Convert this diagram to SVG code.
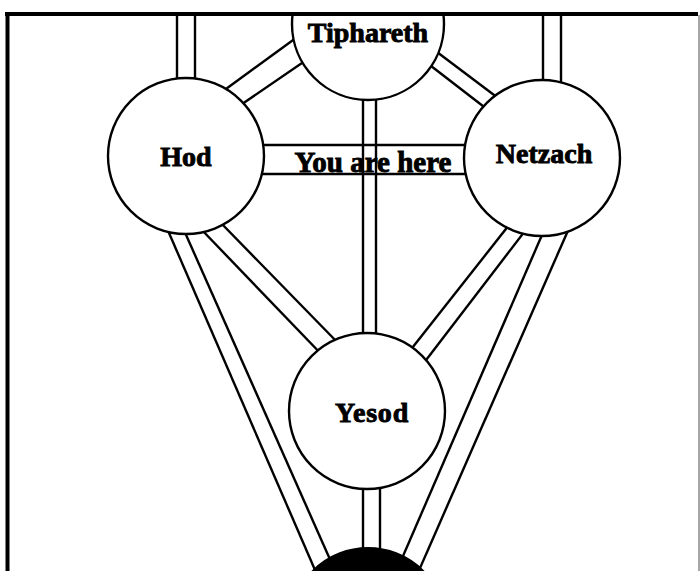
<svg xmlns="http://www.w3.org/2000/svg" width="700" height="571" viewBox="0 0 700 571">
  <style>
    .rail { stroke: #000; stroke-width: 2.4; fill: none; stroke-linecap: butt; }
    .sphere { fill: #fff; stroke: #000; stroke-width: 2.4; }
    .label { font-family: "Liberation Serif", "Times New Roman", serif; font-weight: bold; font-size: 28px; fill: #000; stroke: #000; stroke-width: 0.9; text-anchor: middle; }
  </style>
  <defs>
    <clipPath id="inside">
      <rect x="8" y="14" width="692" height="557"/>
    </clipPath>
  </defs>
  <rect x="0" y="0" width="700" height="571" fill="#fff"/>

  <g clip-path="url(#inside)">
    <!-- label of the Hod - Netzach path; the rails run over it -->
    <g id="marker-label">
      <text class="label" x="373" y="172" style="font-size:29px">You are here</text>
    </g>

    <!-- paths between the spheres, each a pair of rails -->
    <g id="connectors">
      <!-- Hod upward -->
      <line class="rail" x1="177" y1="10" x2="177" y2="100"/>
      <line class="rail" x1="195" y1="10" x2="195" y2="100"/>
      <!-- Netzach upward -->
      <line class="rail" x1="543" y1="10" x2="543" y2="100"/>
      <line class="rail" x1="561" y1="10" x2="561" y2="100"/>
      <!-- Hod - Tiphareth -->
      <line class="rail" x1="215" y1="97" x2="300" y2="35"/>
      <line class="rail" x1="237" y1="107.5" x2="310" y2="57.5"/>
      <!-- Tiphareth - Netzach -->
      <line class="rail" x1="429" y1="46" x2="500" y2="99.5"/>
      <line class="rail" x1="422" y1="59" x2="490" y2="111.5"/>
      <!-- Tiphareth - Yesod -->
      <line class="rail" x1="363" y1="90" x2="363" y2="345"/>
      <line class="rail" x1="376" y1="90" x2="376" y2="345"/>
      <!-- Hod - Netzach -->
      <line class="rail" x1="250" y1="145" x2="480" y2="145"/>
      <line class="rail" x1="250" y1="174" x2="480" y2="174"/>
      <!-- Hod - Yesod -->
      <line class="rail" x1="200" y1="228" x2="325" y2="358"/>
      <line class="rail" x1="218" y1="220" x2="340" y2="345"/>
      <!-- Hod - Malkuth -->
      <line class="rail" x1="166" y1="226" x2="328" y2="600"/>
      <line class="rail" x1="183" y1="228" x2="348" y2="600"/>
      <!-- Netzach - Yesod -->
      <line class="rail" x1="513" y1="220" x2="405" y2="357"/>
      <line class="rail" x1="528" y1="227" x2="420" y2="368"/>
      <!-- Netzach - Malkuth -->
      <line class="rail" x1="570" y1="226" x2="406" y2="600"/>
      <line class="rail" x1="545" y1="228" x2="384" y2="600"/>
      <!-- Yesod - Malkuth -->
      <line class="rail" x1="363" y1="480" x2="363" y2="560"/>
      <line class="rail" x1="380" y1="480" x2="380" y2="560"/>
    </g>

    <g id="tiphareth">
      <circle class="sphere" cx="368" cy="24" r="76"/>
      <text class="label" x="368" y="42">Tiphareth</text>
    </g>

    <g id="hod">
      <circle class="sphere" cx="186" cy="156" r="78"/>
      <text class="label" x="186" y="166">Hod</text>
    </g>

    <g id="netzach">
      <circle class="sphere" cx="542" cy="158" r="78"/>
      <text class="label" x="544" y="163">Netzach</text>
    </g>

    <g id="yesod">
      <circle class="sphere" cx="367" cy="411" r="78"/>
      <text class="label" x="372" y="422" letter-spacing="0.8">Yesod</text>
    </g>

    <g id="malkuth">
      <circle cx="368" cy="626" r="78" fill="#000" stroke="#000" stroke-width="2"/>
    </g>
  </g>

  <!-- frame -->
  <g id="frame">
    <line x1="5" y1="14" x2="698" y2="14" stroke="#000" stroke-width="4"/>
    <line x1="7.5" y1="12" x2="7.5" y2="571" stroke="#000" stroke-width="4"/>
    <line x1="699" y1="15" x2="699" y2="571" stroke="#888" stroke-width="1.5"/>
  </g>
</svg>
